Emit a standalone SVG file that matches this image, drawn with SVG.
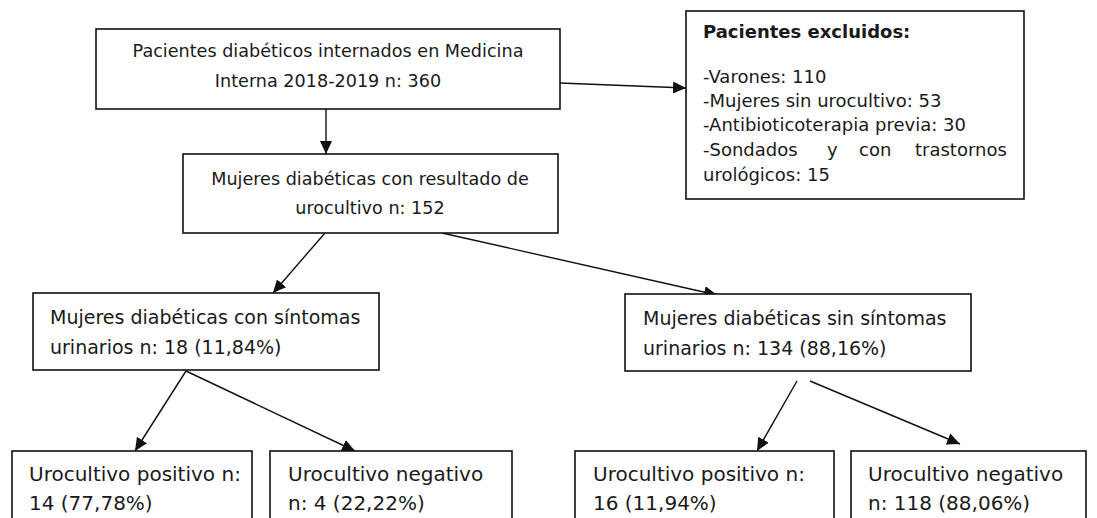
<svg xmlns="http://www.w3.org/2000/svg" width="1097" height="518" viewBox="0 0 1097 518">
<defs>
<marker id="ah" markerUnits="userSpaceOnUse" markerWidth="14" markerHeight="12" refX="13" refY="6" orient="auto">
<path d="M0,0 L13,6 L0,12 Z" fill="#111"/>
</marker>
<style>
.box{fill:#fff;stroke:#111;stroke-width:1.6}
.t{font-family:"DejaVu Sans",Verdana,sans-serif;font-size:20px;fill:#1a1a1a}
.a{font-size:17.6px}
.m{font-size:19px}
.s{font-family:"DejaVu Sans",Verdana,sans-serif;font-size:18px;fill:#1a1a1a}
.b{font-weight:bold}
.c{text-anchor:middle}
.e{stroke:#111;stroke-width:1.4;fill:none;marker-end:url(#ah)}
</style>
</defs>
<rect width="1097" height="518" fill="#fff"/>
<g id="connectors">
<line class="e" x1="326" y1="109" x2="326" y2="154"/>
<line class="e" x1="560" y1="83" x2="686" y2="88"/>
<line class="e" x1="325" y1="233" x2="273" y2="293"/>
<line class="e" x1="442" y1="233" x2="717" y2="295"/>
<line class="e" x1="186" y1="371" x2="135" y2="451"/>
<line class="e" x1="186" y1="371" x2="355" y2="451"/>
<line class="e" x1="797" y1="381" x2="757" y2="451"/>
<line class="e" x1="810" y1="381" x2="960" y2="444"/>
</g>
<g id="n-pacientes">
<rect class="box" x="96" y="29" width="464" height="80"/>
<text class="t a c" x="328" y="57">Pacientes diabéticos internados en Medicina</text>
<text class="t a c" x="328" y="87">Interna 2018-2019 n: 360</text>
</g>
<g id="n-excluidos">
<rect class="box" x="686" y="11" width="338" height="188"/>
<text class="s b" x="703" y="38">Pacientes excluidos:</text>
<text class="s" x="703" y="83">-Varones: 110</text>
<text class="s" x="703" y="107">-Mujeres sin urocultivo: 53</text>
<text class="s" x="703" y="131">-Antibioticoterapia previa: 30</text>
<text class="s" y="156"><tspan x="703">-Sondados</tspan><tspan x="827">y</tspan><tspan x="859">con</tspan><tspan x="915">trastornos</tspan></text>
<text class="s" x="703" y="181">urológicos: 15</text>
</g>
<g id="n-mujeres">
<rect class="box" x="183" y="154" width="375" height="79"/>
<text class="t a c" x="370" y="185">Mujeres diabéticas con resultado de</text>
<text class="t a c" x="370" y="214">urocultivo n: 152</text>
</g>
<g id="n-con-sintomas">
<rect class="box" x="33" y="293" width="346" height="77"/>
<text class="t m" x="50" y="324">Mujeres diabéticas con síntomas</text>
<text class="t m" x="50" y="354">urinarios n: 18 (11,84%)</text>
</g>
<g id="n-sin-sintomas">
<rect class="box" x="625" y="294" width="346" height="77"/>
<text class="t m" x="643" y="325">Mujeres diabéticas sin síntomas</text>
<text class="t m" x="643" y="355">urinarios n: 134 (88,16%)</text>
</g>
<g id="n-pos1">
<rect class="box" x="12" y="451" width="240" height="80"/>
<text class="t" x="29" y="481">Urocultivo positivo n:</text>
<text class="t" x="29" y="510">14 (77,78%)</text>
</g>
<g id="n-neg1">
<rect class="box" x="270" y="451" width="242" height="80"/>
<text class="t" x="288" y="481">Urocultivo negativo</text>
<text class="t" x="288" y="510">n: 4 (22,22%)</text>
</g>
<g id="n-pos2">
<rect class="box" x="575" y="451" width="259" height="80"/>
<text class="t" x="593" y="481">Urocultivo positivo n:</text>
<text class="t" x="593" y="510">16 (11,94%)</text>
</g>
<g id="n-neg2">
<rect class="box" x="851" y="451" width="235" height="80"/>
<text class="t" x="868" y="481">Urocultivo negativo</text>
<text class="t" x="868" y="510">n: 118 (88,06%)</text>
</g>
</svg>
